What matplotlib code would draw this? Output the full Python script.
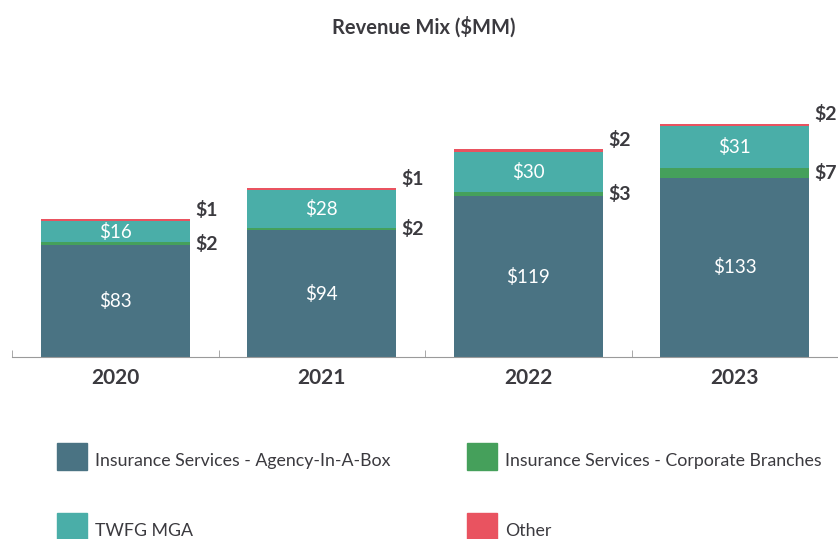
import matplotlib.pyplot as plt
from matplotlib.patches import Rectangle

plt.rcParams['font.family'] = ['Lato', 'DejaVu Sans']

years = ['2020', '2021', '2022', '2023']
agency = [83, 94, 119, 133]
corporate = [2, 2, 3, 7]
mga = [16, 28, 30, 31]
other = [1, 1, 2, 2]

series_names = ['Insurance Services - Agency-In-A-Box',
                'Insurance Services - Corporate Branches',
                'TWFG MGA', 'Other']
colors = ['#4a7383', '#45a05b', '#4aaea8', '#e95360']
dark = '#3b3a3f'

W, H = 838, 539
fig = plt.figure(figsize=(W / 100, H / 100), dpi=100)
ax = fig.add_axes([12 / W, (H - 357) / H, 1 - 12 / W, 317 / H])

x = list(range(len(years)))
bar_w = 0.72
bottom = [0] * len(years)
bars = []
for vals, col in zip([agency, corporate, mga, other], colors):
    b = ax.bar(x, vals, bar_w, bottom=bottom, color=col, linewidth=0)
    bars.append(b)
    bottom = [a + v for a, v in zip(bottom, vals)]

# labels inside the big segments
for b, vals in [(bars[0], agency), (bars[2], mga)]:
    for rect, v in zip(b, vals):
        ax.text(rect.get_x() + rect.get_width() / 2, rect.get_y() + rect.get_height() / 2,
                f'${v}', ha='center', va='center', color='white', fontsize=13.5)

# labels outside for the thin segments
for rect, v in zip(bars[1], corporate):
    ax.annotate(f'${v}', (rect.get_x() + rect.get_width(), rect.get_y() + rect.get_height() / 2),
                xytext=(4, 0), textcoords='offset points', ha='left', va='center',
                color=dark, fontsize=14, fontweight='bold', annotation_clip=False)
for rect, v in zip(bars[3], other):
    ax.annotate(f'${v}', (rect.get_x() + rect.get_width(), rect.get_y() + rect.get_height()),
                xytext=(4, 7), textcoords='offset points', ha='left', va='center',
                color=dark, fontsize=14, fontweight='bold', annotation_clip=False)

ax.set_xlim(-0.5, len(years) - 0.5)
ax.set_ylim(0, 235)
for s in ['top', 'right', 'left']:
    ax.spines[s].set_visible(False)
ax.spines['bottom'].set_color('#9a9a9a')
ax.set_yticks([])
ax.set_xticks(x)
ax.set_xticklabels(years, fontsize=15, fontweight='bold', color=dark)
ax.tick_params(axis='x', length=0, pad=8)
ax.set_xticks([i - 0.5 for i in range(len(years) + 1)], minor=True)
ax.tick_params(axis='x', which='minor', direction='in', length=5, color='#9a9a9a')

fig.text(424 / W, 1 - 27 / H, 'Revenue Mix ($MM)', ha='center', va='center',
         fontsize=14.5, fontweight='bold', color=dark)

# legend, 2 columns
for i, (name, col) in enumerate(zip(series_names, colors)):
    c, r = i % 2, i // 2
    x0 = 57 + c * 410
    y0 = 443 + r * 70
    fig.add_artist(Rectangle((x0 / W, 1 - (y0 + 27) / H), 30 / W, 27 / H,
                             transform=fig.transFigure, color=col))
    fig.text((x0 + 38) / W, 1 - (y0 + 18) / H, name, ha='left', va='center',
             fontsize=12.8, color=dark)

fig.savefig('out.png', dpi=100)
